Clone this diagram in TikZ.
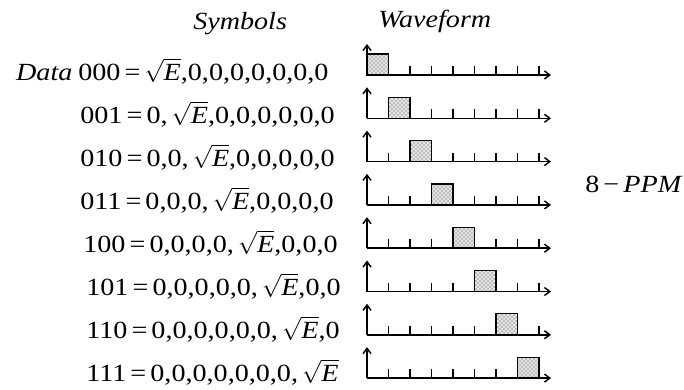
\documentclass[tikz,border=0pt]{standalone}
\usepackage{amsmath}
\usepackage{fontspec}
\setmainfont{Liberation Serif}
\newfontfamily\wideserif{Liberation Serif}[FakeStretch=1.14]
\usepackage{tikz}
\usetikzlibrary{positioning,arrows.meta,patterns,calc}

\newcommand{\rtE}{$\sqrt{\text{\itshape E}}$}

\begin{document}
\begin{tikzpicture}[x=0.75pt, y=-0.75pt, >={Straight Barb[length=4pt,width=6pt]},
  axis/.style={line width=1.1pt, ->},
  tick/.style={line width=1.1pt},
  pulse/.style={draw, line width=0.9pt, fill=gray!20, postaction={pattern=crosshatch dots, pattern color=black!75}},
  symtext/.style={anchor=base west, inner sep=0pt, font=\wideserif\fontsize{18.5}{22}\selectfont},
  headtext/.style={anchor=base west, inner sep=0pt, font=\wideserif\fontsize{18.5}{22}\selectfont\itshape}]
\useasboundingbox (0,0) rectangle (684,389);

% headings
\node[headtext] (symbols) at (193,29) {Symbols};
\node[headtext] (waveform) at (378,27) {Waveform};

% symbol rows
\node[symtext] (r1) at (78,80) {000\,=\,\rtE,0,0,0,0,0,0,0};
\node[symtext, anchor=base east] (data) at ([xshift=-4]r1.base west) {\itshape Data};
\node[symtext] (r2) at (80,123) {001\,=\,0,\,\rtE,0,0,0,0,0,0};
\node[symtext] (r3) at (80,166) {010\,=\,0,0,\,\rtE,0,0,0,0,0};
\node[symtext] (r4) at (80,209) {011\,=\,0,0,0,\,\rtE,0,0,0,0};
\node[symtext] (r5) at (83,252) {100\,=\,0,0,0,0,\,\rtE,0,0,0};
\node[symtext] (r6) at (86,295) {101\,=\,0,0,0,0,0,\,\rtE,0,0};
\node[symtext] (r7) at (86,338) {110\,=\,0,0,0,0,0,0,\,\rtE,0};
\node[symtext] (r8) at (86,381) {111\,=\,0,0,0,0,0,0,0,\,\rtE};

\node[symtext] (ppm) at (585,192) {8\,−\,\textit{PPM}};

% waveforms
\foreach \i in {1,...,8}{
  \pgfmathsetmacro{\yb}{75+43.3*(\i-1)}
  \coordinate (o\i) at (367,\yb);
  \coordinate (t\i) at (367,\yb-31);
  \coordinate (e\i) at (551,\yb);
  \foreach \k in {1,...,8}
    \draw[tick] ($(o\i)+(21.5*\k,0)$) -- ++(0,-9);
  \draw[pulse] ($(o\i)+(21.5*\i-21.5,0)$) rectangle ++(21.5,-21);
  \draw[axis] (o\i) -- (t\i);
  \draw[axis] (o\i) -- (e\i);
}
\end{tikzpicture}
\end{document}
